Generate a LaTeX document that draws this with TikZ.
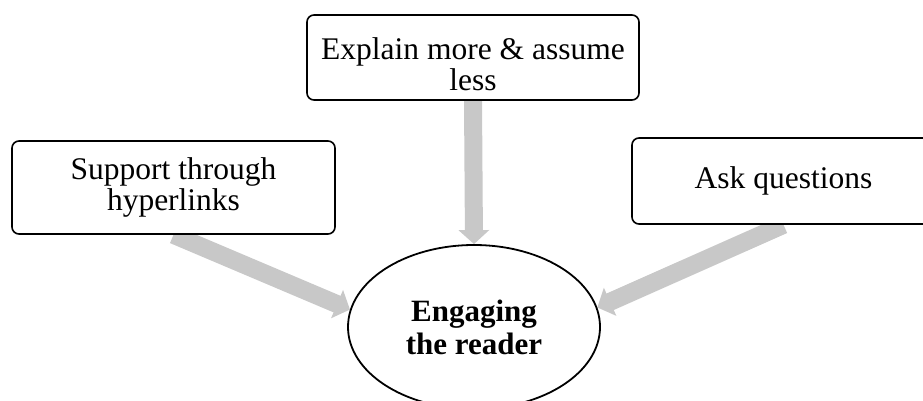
\documentclass[tikz,border=0pt]{standalone}
\usepackage{fontspec}
\setmainfont{Liberation Serif}
\usetikzlibrary{arrows.meta,shapes.geometric,backgrounds}
\definecolor{arrowgray}{RGB}{200,200,200}
\begin{document}
\begin{tikzpicture}[x=1pt, y=-1pt,
  tipbox/.style={draw, line width=1.6pt, rounded corners=7pt, fill=white, align=center,
    inner sep=0pt, font=\fontsize{31.5}{31}\selectfont},
  goal/.style={draw, ellipse, line width=1.8pt, fill=white, align=center, inner sep=0pt,
    minimum width=252pt, minimum height=164pt, font=\fontsize{31}{33}\selectfont\bfseries},
  feed/.style={draw=arrowgray, line width=18pt, -{Triangle[width=30pt,length=14pt]}}]
  \useasboundingbox (0,0) rectangle (923,401);
  % central ellipse
  \node[goal] (engage) at (474,327) {Engaging\\the reader};
  % the three boxes
  \node[tipbox, minimum width=332pt, minimum height=85pt] (explain) at (473,57.5) {\rule{0pt}{36pt}Explain more \& assume\\less};
  \node[tipbox, minimum width=323pt, minimum height=93pt] (support) at (173.5,187.5) {Support through\\hyperlinks};
  \node[tipbox, minimum width=303pt, minimum height=86pt] (ask) at (783.5,181) {Ask questions};
  % gray arrows behind the boxes
  \begin{scope}[on background layer]
    \draw[feed] (explain.south) -- (engage.north);
    \draw[feed] (support.south) -- (engage.172);
    \draw[feed] (ask.south) -- (engage.9);
  \end{scope}
\end{tikzpicture}
\end{document}
